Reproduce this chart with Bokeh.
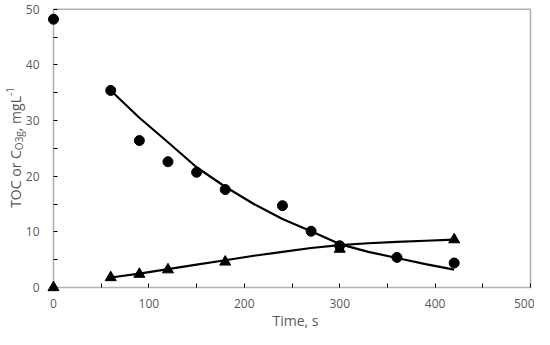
import math
from bokeh.plotting import figure
from bokeh.models import Range1d, Label, FixedTicker, BoxAnnotation
from bokeh.embed import file_html
from bokeh.resources import INLINE

# ---------------- data ----------------
time_toc = [0, 60, 90, 120, 150, 180, 240, 270, 300, 360, 420]
toc = [48.2, 35.4, 26.4, 22.6, 20.7, 17.6, 14.7, 10.1, 7.5, 5.4, 4.4]

time_o3 = [0, 60, 90, 120, 180, 300, 420]
c_o3g = [0.0, 1.8, 2.4, 3.2, 4.6, 6.9, 8.6]

fit_time = [60, 90, 120, 150, 180, 210, 240, 270, 300, 330, 360, 390, 420]
toc_fit = [35.4, 30.5, 26.1, 21.6, 18.1, 15.0, 12.3, 10.1, 7.8, 6.4, 5.3, 4.2, 3.2]
o3_fit = [1.8, 2.5, 3.3, 4.1, 4.9, 5.7, 6.4, 7.1, 7.6, 7.95, 8.2, 8.4, 8.6]

x_ticks = [0, 100, 200, 300, 400, 500]
x_minor = [50, 150, 250, 350, 450]
y_ticks = [0, 10, 20, 30, 40, 50]
y_minor = [5, 15, 25, 35, 45]

x_title = "Time, s"
y_title_parts = ["TOC or C", "O3g", ", mgL", "-1"]

# ---------------- layout ----------------
FONT = "Open Sans"
TXT = "#595959"
FIG_W, FIG_H = 534, 329
X_LO, X_HI = 0, 500
Y_LO, Y_HI = 0, 50
# pixel placement of the data box inside the canvas
PX_X0, PX_X1 = 53.0, 530.0     # x = 0 and x = 500
PX_Y1, PX_Y0 = 8.7, 287.0      # y = 50 and y = 0
ppx = (PX_X1 - PX_X0) / (X_HI - X_LO)
ppy = (PX_Y0 - PX_Y1) / (Y_HI - Y_LO)
XR = (X_LO - PX_X0 / ppx, X_HI + (FIG_W - PX_X1) / ppx)
YR = (Y_LO - (FIG_H - PX_Y0) / ppy, Y_HI + PX_Y1 / ppy)


def x_of(px):
    return XR[0] + px / ppx


def y_of(py):
    return YR[1] - py / ppy


p = figure(width=FIG_W, height=FIG_H, x_range=Range1d(*XR), y_range=Range1d(*YR),
           output_backend="svg", toolbar_location=None, title=None,
           min_border_left=0, min_border_right=0,
           min_border_top=0, min_border_bottom=0)
p.grid.visible = False
p.outline_line_color = None
p.background_fill_color = "white"
p.border_fill_color = "white"

for ax, tk, mn, bnd in ((p.xaxis[0], x_ticks, x_minor, (X_LO, X_HI)),
                        (p.yaxis[0], y_ticks, y_minor, (Y_LO, Y_HI))):
    ax.ticker = FixedTicker(ticks=tk, minor_ticks=mn)
    ax.fixed_location = 0
    ax.bounds = bnd
    ax.axis_line_color = None
    ax.major_tick_in = 4
    ax.major_tick_out = 0
    ax.minor_tick_in = 4
    ax.minor_tick_out = 0
    ax.major_tick_line_color = "black"
    ax.minor_tick_line_color = "black"
    ax.major_tick_line_width = 1
    ax.minor_tick_line_width = 1
    ax.major_label_text_font = FONT
    ax.major_label_text_font_size = "12px"
    ax.major_label_text_color = TXT

p.xaxis[0].major_label_standoff = 11
p.yaxis[0].major_label_standoff = 14

# plot border box
p.add_layout(BoxAnnotation(left=X_LO, right=X_HI, bottom=Y_LO, top=Y_HI,
                           fill_alpha=0, line_color="black", line_width=1.6))

# fitted curves
p.line(fit_time, toc_fit, line_color="black", line_width=2.2)
p.line(fit_time, o3_fit, line_color="black", line_width=2.2)

# data points
p.scatter(time_toc, toc, marker="circle", size=10, fill_color="black", line_color="black")
p.scatter(time_o3, c_o3g, marker="triangle", size=11, fill_color="black", line_color="black")

# x title
p.add_layout(Label(x=x_of(295), y=y_of(320), text=x_title,
                   text_align="center", text_baseline="middle",
                   text_font=FONT, text_font_size="14px", text_color=TXT))

# y title built from pieces (subscript / superscript)
widths = [57.7, 19.0, 35.1, 8.9]
sizes = ["14px", "10px", "14px", "10px"]
base_px = [15, 18.5, 15, 9.5]
ypix = 147 + sum(widths) / 2
for txt, w, fs, bx in zip(y_title_parts, widths, sizes, base_px):
    p.add_layout(Label(x=x_of(bx), y=y_of(ypix), text=txt, angle=math.pi / 2,
                       text_align="left", text_baseline="alphabetic",
                       text_font=FONT, text_font_size=fs, text_color=TXT))
    ypix -= w

open("out.html", "w").write(file_html(p, INLINE))
